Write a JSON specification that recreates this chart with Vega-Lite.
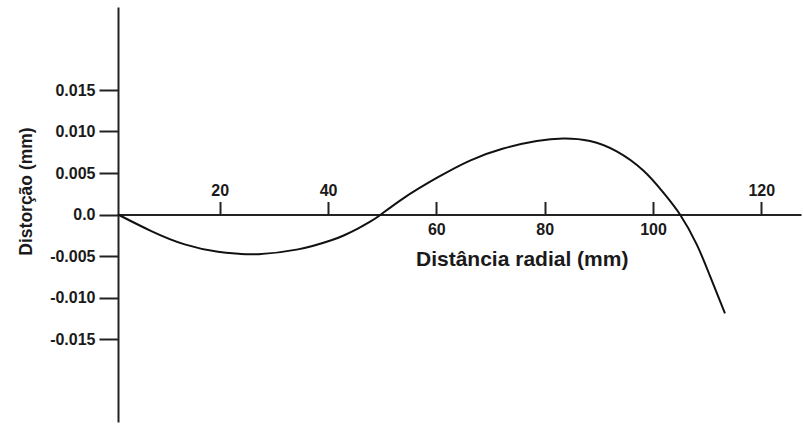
{
  "$schema": "https://vega.github.io/schema/vega-lite/v6.json",
  "width": 683,
  "height": 415,
  "autosize": {"type": "none"},
  "padding": {"left": 118, "top": 7, "right": 2, "bottom": 3},
  "background": "white",
  "config": {
    "view": {"stroke": null},
    "font": "Liberation Sans",
    "axis": {
      "grid": false,
      "domainColor": "#222222",
      "domainWidth": 2,
      "tickColor": "#222222",
      "tickWidth": 2,
      "labelFont": "Liberation Sans",
      "labelFontWeight": "bold",
      "labelColor": "#1a1a1a",
      "labelFontSize": 16,
      "titleFont": "Liberation Sans",
      "titleFontWeight": "bold",
      "titleColor": "#1a1a1a",
      "labelFlush": false,
      "labelOverlap": false,
      "labelBound": false
    }
  },
  "data": {
    "values": [
      {"r": 1.22, "d": 0},
      {"r": 7.37, "d": -0.002},
      {"r": 13.53, "d": -0.0036},
      {"r": 19.68, "d": -0.0045},
      {"r": 23.5, "d": -0.00473},
      {"r": 27.07, "d": -0.00478},
      {"r": 34.45, "d": -0.0042},
      {"r": 40.6, "d": -0.0031},
      {"r": 43.0, "d": -0.0025},
      {"r": 45.5, "d": -0.0017},
      {"r": 47.7, "d": -0.0009},
      {"r": 49.78, "d": 0},
      {"r": 53.9, "d": 0.00195},
      {"r": 60.06, "d": 0.0044},
      {"r": 66.21, "d": 0.0065},
      {"r": 72.36, "d": 0.00795},
      {"r": 78.53, "d": 0.00885},
      {"r": 83.44, "d": 0.00915},
      {"r": 88.37, "d": 0.00885},
      {"r": 93.3, "d": 0.0076},
      {"r": 98.21, "d": 0.0053},
      {"r": 101.9, "d": 0.00265},
      {"r": 104.99, "d": 0},
      {"r": 108.07, "d": -0.0036},
      {"r": 110.52, "d": -0.0074},
      {"r": 113.29, "d": -0.0119}
    ]
  },
  "resolve": {"axis": {"x": "independent"}},
  "layer": [
    {
      "mark": {"type": "line", "interpolate": "natural", "color": "#111111", "strokeWidth": 2},
      "encoding": {
        "x": {
          "field": "r",
          "type": "quantitative",
          "scale": {"domain": [1.22, 127.33], "nice": false, "zero": false},
          "axis": {
            "orient": "top",
            "offset": -207.5,
            "values": [20, 40, 60, 80, 100, 120],
            "tickSize": 13,
            "labelPadding": 3,
            "labelExpr": "datum.value == 20 || datum.value == 40 || datum.value == 120 ? datum.label : ''",
            "title": null
          }
        },
        "y": {
          "field": "d",
          "type": "quantitative",
          "scale": {"domain": [-0.025, 0.025], "nice": false, "zero": false},
          "axis": {
            "values": [-0.015, -0.01, -0.005, 0, 0.005, 0.01, 0.015],
            "tickSize": 19,
            "labelPadding": 4,
            "labelExpr": "datum.value == 0 ? '0.0' : (datum.value < 0 ? '-' : '') + format(abs(datum.value), '.3f')",
            "title": "Distorção (mm)",
            "titleFontSize": 17.5,
            "titleX": -87,
            "titleY": 184,
            "titleAlign": "center",
            "titleBaseline": "alphabetic",
            "titleAngle": -90
          }
        }
      }
    },
    {
      "mark": {"type": "point", "opacity": 0},
      "encoding": {
        "x": {
          "field": "r",
          "type": "quantitative",
          "axis": {
            "orient": "bottom",
            "offset": -207.5,
            "values": [60, 80, 100],
            "ticks": false,
            "tickSize": 0,
            "domain": false,
            "labelPadding": 7,
            "labelBaseline": "top",
            "title": "Distância radial (mm)",
            "titleFontSize": 21,
            "titleX": 403.7,
            "titleY": 50.5,
            "titleAlign": "center",
            "titleBaseline": "alphabetic"
          }
        },
        "y": {"field": "d", "type": "quantitative"}
      }
    }
  ]
}
